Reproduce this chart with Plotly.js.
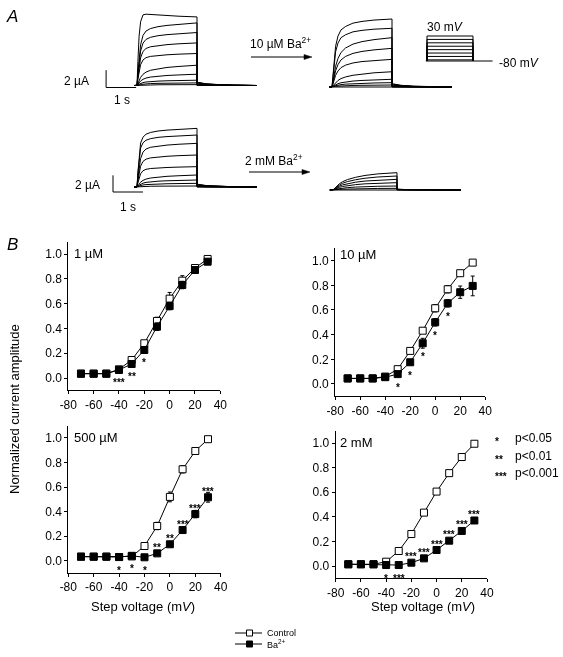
<!DOCTYPE html>
<html><head><meta charset="utf-8">
<script src="https://cdn.plot.ly/plotly-3.0.1.min.js"></script>
<style>
html,body{margin:0;padding:0;background:#fff}
#chart{width:563px;height:657px}
#chart svg{will-change:transform}
#chart svg text{-webkit-font-smoothing:antialiased}
</style>
</head><body><div id="chart"></div>
<script>
// ================= DATA =================
// ---- Panel B: normalized current vs step voltage ----
const voltages = [-70,-60,-50,-40,-30,-20,-10,0,10,20,30];
const tickV = [-80,-60,-40,-20,0,20,40];
const tickVText = ['-80','-60','-40','-20','0','20','40'];
const tickY = [0,0.2,0.4,0.6,0.8,1.0];
const tickYText = ['0.0','0.2','0.4','0.6','0.8','1.0'];

const ctrl_1uM    = [0.035,0.035,0.035,0.07,0.145,0.28,0.46,0.64,0.785,0.887,0.96];
const ba_1uM      = [0.035,0.035,0.035,0.065,0.113,0.226,0.414,0.58,0.75,0.871,0.938];
const ctrlErr_1uM = [0,0,0,0.01,0.01,0.02,0.03,0.05,0.04,0.02,0.02];
const baErr_1uM   = [0,0,0,0.01,0.01,0.02,0.03,0.03,0.03,0.02,0.02];
const stars_1uM   = ['','','','***','**','*','','','','',''];

const ctrl_10uM    = [0.045,0.045,0.045,0.06,0.12,0.268,0.432,0.614,0.768,0.898,0.984];
const ba_10uM      = [0.045,0.045,0.045,0.055,0.08,0.176,0.33,0.5,0.654,0.744,0.795];
const ctrlErr_10uM = [0,0,0,0.01,0.01,0.02,0.02,0.03,0.03,0.02,0.01];
const baErr_10uM   = [0,0,0,0.01,0.01,0.02,0.04,0.03,0.03,0.05,0.08];
const stars_10uM   = ['','','','','*','*','*','*','*','',''];

const ctrl_500uM    = [0.033,0.033,0.033,0.03,0.035,0.12,0.283,0.52,0.745,0.894,0.99];
const ba_500uM      = [0.033,0.033,0.033,0.03,0.04,0.028,0.06,0.134,0.25,0.38,0.517];
const ctrlErr_500uM = [0,0,0,0,0.01,0.01,0.03,0.04,0.03,0.01,0.01];
const baErr_500uM   = [0,0,0,0,0.01,0.01,0.01,0.02,0.02,0.03,0.04];
const stars_500uM   = ['','','','*','*','*','**','**','***','***','***'];

const ctrl_2mM    = [0.014,0.014,0.014,0.035,0.122,0.26,0.434,0.605,0.755,0.886,0.994];
const ba_2mM      = [0.014,0.014,0.014,0.008,0.008,0.027,0.062,0.13,0.206,0.285,0.37];
const ctrlErr_2mM = [0,0,0,0,0,0.01,0.01,0.01,0.01,0.01,0.01];
const baErr_2mM   = [0,0,0,0,0,0,0,0.01,0.01,0.01,0.01];
const stars_2mM   = ['','','','*','***','***','***','***','***','***','***'];

// ---- Panel A: current traces (µA) ----
// normalized time course of activation (fraction of end-of-pulse amplitude)
const tPulse   = [0,0.03,0.07,0.12,0.2,0.3,0.45,0.7,1.0,1.4,2.0];
const ctrlFast = [0,0.35,0.72,0.93,1.03,1.04,1.035,1.03,1.02,1.01,1.0];
const ctrlQuick= [0,0.25,0.55,0.75,0.85,0.9,0.93,0.955,0.97,0.985,1.0];
const ctrlMid  = [0,0.2,0.45,0.65,0.8,0.87,0.91,0.94,0.96,0.98,1.0];
const ctrlSlow = [0,0.1,0.25,0.4,0.55,0.66,0.75,0.83,0.89,0.94,1.0];
const baFast   = [0,0.15,0.38,0.6,0.75,0.84,0.89,0.94,0.965,0.985,1.0];
const baMid    = [0,0.1,0.26,0.42,0.58,0.7,0.79,0.87,0.92,0.96,1.0];
const baSlow   = [0,0.07,0.17,0.29,0.43,0.55,0.66,0.77,0.85,0.93,1.0];
const ba2mShape= [0,0.05,0.13,0.23,0.36,0.48,0.6,0.73,0.84,0.93,1.0];
const tTail    = [0,0.05,0.3,0.7,1.2,2.0];
const tailFrac = [0.06,0.045,0.025,0.012,0.005,0];

// end-of-pulse amplitudes (µA)
const ampCtrlTop = [7.91,7.22,6.11,4.91,3.69,2.34,1.30,0.61,0.30,0.10];
const ampBa10uM  = [7.84,6.77,5.69,4.46,3.19,1.76,0.89,0.50,0.23,0.08];
const ampCtrlBot = [7.04,6.24,5.24,3.84,2.44,1.44,0.84,0.44,0.12];
const ampBa2mM   = [2.08,1.68,1.28,0.88,0.48,0.20,0.06];

// voltage protocol (mV)
const protoLevels = [30,15,0,-15,-30,-45,-60,-75];
const holdingV = -80;

// ================= LAYOUT HELPERS =================
const W = 563, H = 657;
const FONT = 'Liberation Sans, Arial, Helvetica, sans-serif';
const traces = [];
const layout = {
  width: W, height: H, autosize: false,
  margin: {l:0, r:0, t:0, b:0, pad:0},
  paper_bgcolor: '#fff', plot_bgcolor: 'rgba(0,0,0,0)',
  showlegend: false, font: {family: FONT, color: '#000', size: 12},
  annotations: [], shapes: []
};
function ann(text, px, py, opts) {
  layout.annotations.push(Object.assign({
    text: text, xref: 'paper', yref: 'paper', x: px / W, y: 1 - py / H,
    xanchor: 'center', yanchor: 'middle', showarrow: false,
    font: {family: FONT, size: 12, color: '#000'}
  }, opts || {}));
}

// ---- Panel B subplots ----
const panels = [
  {label:'1 µM',   ctrl:ctrl_1uM,   ba:ba_1uM,   ce:ctrlErr_1uM,   be:baErr_1uM,   st:stars_1uM,   belowMax:40,  x0:68.3,  x1:220.3, yb:390.4, yt:241.6, lx:72,  ly:253},
  {label:'10 µM',  ctrl:ctrl_10uM,  ba:ba_10uM,  ce:ctrlErr_10uM,  be:baErr_10uM,  st:stars_10uM,  belowMax:40,  x0:335.2, x1:485.2, yb:396.3, yt:248.3, lx:338, ly:255},
  {label:'500 µM', ctrl:ctrl_500uM, ba:ba_500uM, ce:ctrlErr_500uM, be:baErr_500uM, st:stars_500uM, belowMax:-20, x0:68.3,  x1:220.7, yb:573.0, yt:425.7, lx:72,  ly:437},
  {label:'2 mM',   ctrl:ctrl_2mM,   ba:ba_2mM,   ce:ctrlErr_2mM,   be:baErr_2mM,   st:stars_2mM,   belowMax:-30, x0:335.7, x1:487.0, yb:578.3, yt:430.7, lx:338, ly:442}
];
panels.forEach((p, i) => {
  const n = i + 1, xa = 'x' + n, ya = 'y' + n;
  layout['xaxis' + n] = {
    domain: [p.x0 / W, p.x1 / W], anchor: ya, range: [-80, 40],
    tickvals: tickV, ticktext: tickVText, ticks: 'outside', ticklen: 3, tickwidth: 1, tickcolor: '#000',
    showline: true, linecolor: '#000', linewidth: 1, showgrid: false, zeroline: false,
    tickfont: {family: FONT, size: 12, color: '#000'}, fixedrange: true
  };
  layout['yaxis' + n] = {
    domain: [1 - p.yb / H, 1 - p.yt / H], anchor: xa, range: [-0.1, 1.1],
    tickvals: tickY, ticktext: tickYText, ticks: 'outside', ticklen: 3, tickwidth: 1, tickcolor: '#000',
    showline: true, linecolor: '#000', linewidth: 1, showgrid: false, zeroline: false,
    tickfont: {family: FONT, size: 12, color: '#000'}, fixedrange: true
  };
  traces.push({
    x: voltages, y: p.ctrl, xaxis: xa, yaxis: ya, type: 'scatter', mode: 'lines+markers',
    line: {color: '#000', width: 1},
    marker: {symbol: 'square', size: 7, color: '#fff', line: {color: '#000', width: 1}},
    error_y: {type: 'data', array: p.ce, visible: true, color: '#000', thickness: 1, width: 2},
    hoverinfo: 'skip'
  });
  traces.push({
    x: voltages, y: p.ba, xaxis: xa, yaxis: ya, type: 'scatter', mode: 'lines+markers',
    line: {color: '#000', width: 1},
    marker: {symbol: 'square', size: 7, color: '#000', line: {color: '#000', width: 1}},
    error_y: {type: 'data', array: p.be, visible: true, color: '#000', thickness: 1, width: 2},
    hoverinfo: 'skip'
  });
  voltages.forEach((v, k) => {
    if (!p.st[k]) return;
    const below = v <= p.belowMax;
    layout.annotations.push({
      text: '<b>' + p.st[k] + '</b>', x: v, y: p.ba[k], xref: xa, yref: ya, showarrow: false,
      xanchor: 'center', yanchor: 'middle', yshift: below ? -13 : 6,
      font: {family: FONT, size: 10, color: '#000'}
    });
  });
  ann(p.label, p.lx, p.ly, {xanchor: 'left', font: {family: FONT, size: 13, color: '#000'}});
});

// axis titles (panel B)
ann('Normalized current amplitude', 14, 409, {textangle: -90, font: {family: FONT, size: 13, color: '#000'}});
ann('Step voltage (m<i>V</i>)', 143, 606, {font: {family: FONT, size: 13, color: '#000'}});
ann('Step voltage (m<i>V</i>)', 423, 606, {font: {family: FONT, size: 13, color: '#000'}});

// significance key
ann('<b>*</b>', 493, 441, {xanchor: 'left', font: {family: FONT, size: 10, color: '#000'}});
ann('p<0.05', 513, 438, {xanchor: 'left', font: {family: FONT, size: 12, color: '#000'}});
ann('<b>**</b>', 493, 459, {xanchor: 'left', font: {family: FONT, size: 10, color: '#000'}});
ann('p<0.01', 513, 456, {xanchor: 'left', font: {family: FONT, size: 12, color: '#000'}});
ann('<b>***</b>', 493, 476, {xanchor: 'left', font: {family: FONT, size: 10, color: '#000'}});
ann('p<0.001', 513, 473, {xanchor: 'left', font: {family: FONT, size: 12, color: '#000'}});

// bottom legend (drawn glyphs)
function legendRow(py, filled, label) {
  layout.shapes.push({type: 'line', xref: 'paper', yref: 'paper', x0: 235 / W, x1: 262 / W, y0: 1 - py / H, y1: 1 - py / H, line: {color: '#000', width: 1}});
  layout.shapes.push({type: 'rect', xref: 'paper', yref: 'paper', x0: 246.5 / W, x1: 252.5 / W, y0: 1 - (py + 3) / H, y1: 1 - (py - 3) / H, line: {color: '#000', width: 1}, fillcolor: filled ? '#000' : '#fff'});
  ann(label, 265, py, {xanchor: 'left', font: {family: FONT, size: 9, color: '#000'}});
}
legendRow(633, false, 'Control');
legendRow(644, true, 'Ba<sup>2+</sup>');

// ---- Panel A trace families ----
let axN = panels.length;
function addFamily(cfg) {
  axN += 1;
  const xa = 'x' + axN, ya = 'y' + axN;
  layout['xaxis' + axN] = {visible: false, fixedrange: true, anchor: ya,
    domain: [(cfg.onset + cfg.tMin * cfg.pxps) / W, (cfg.onset + cfg.tMax * cfg.pxps) / W], range: [cfg.tMin, cfg.tMax]};
  layout['yaxis' + axN] = {visible: false, fixedrange: true, anchor: xa,
    domain: [1 - (cfg.base - cfg.iMin * cfg.pxpu) / H, 1 - (cfg.base - cfg.iMax * cfg.pxpu) / H], range: [cfg.iMin, cfg.iMax]};
  return {xa, ya};
}
function addCurrents(ax, amps, shapes, pulseEnd) {
  amps.forEach((a, i) => {
    const sh = shapes[i];
    const xs = [-0.1].concat(tPulse.map(t => t * pulseEnd / 2.0), tTail.map(t => pulseEnd + t));
    const ys = [0].concat(sh.map(f => f * a), tailFrac.map(f => f * a));
    traces.push({x: xs, y: ys, xaxis: ax.xa, yaxis: ax.ya, type: 'scatter', mode: 'lines',
      line: {color: '#000', width: 1}, hoverinfo: 'skip'});
  });
}
function addScaleBar(ax, t0, i0) {
  traces.push({x: [t0, t0, null, t0, t0 + 1], y: [i0, i0 + 2, null, i0, i0], xaxis: ax.xa, yaxis: ax.ya,
    type: 'scatter', mode: 'lines', line: {color: '#000', width: 1}, hoverinfo: 'skip'});
}

// row 1: control
const axC1 = addFamily({onset: 137, pxps: 30, base: 85.5, pxpu: 8.67, tMin: -1.3, tMax: 4.3, iMin: -1, iMax: 9});
addCurrents(axC1, ampCtrlTop, [ctrlFast, ctrlMid, ctrlMid, ctrlMid, ctrlMid, ctrlSlow, ctrlSlow, ctrlSlow, ctrlSlow, ctrlSlow], 2.0);
addScaleBar(axC1, -1.03, -0.23);
// row 1: 10 µM Ba
const axB1 = addFamily({onset: 332, pxps: 30, base: 87, pxpu: 8.67, tMin: -0.5, tMax: 4.3, iMin: -1, iMax: 9});
addCurrents(axB1, ampBa10uM, [baFast, baFast, baMid, baMid, baMid, baSlow, baSlow, baSlow, baSlow, baSlow], 2.0);
// row 2: control
const axC2 = addFamily({onset: 137, pxps: 30, base: 187, pxpu: 8.33, tMin: -1.3, tMax: 4.3, iMin: -1, iMax: 9});
addCurrents(axC2, ampCtrlBot, [ctrlQuick, ctrlQuick, ctrlMid, ctrlMid, ctrlMid, ctrlSlow, ctrlSlow, ctrlSlow, ctrlSlow], 2.0);
addScaleBar(axC2, -0.8, -0.6);
// row 2: 2 mM Ba
const axB2 = addFamily({onset: 333, pxps: 32, base: 190, pxpu: 8.33, tMin: -0.5, tMax: 4.3, iMin: -1, iMax: 9});
addCurrents(axB2, ampBa2mM, ampBa2mM.map(() => ba2mShape), 2.0);

// voltage protocol
const axP = addFamily({onset: 427, pxps: 23, base: 61, pxpu: 25 / 110, tMin: -0.4, tMax: 3.0, iMin: -10, iMax: 125});
(function () {
  const px = [], py = [];
  protoLevels.forEach(v => { px.push(0, 0, 2, 2, null); py.push(holdingV, v, v, holdingV, null); });
  px.push(-0.05, 2.85); py.push(holdingV, holdingV);
  traces.push({x: px, y: py.map(v => v === null ? null : v - holdingV), xaxis: axP.xa, yaxis: axP.ya,
    type: 'scatter', mode: 'lines', line: {color: '#000', width: 1}, hoverinfo: 'skip', connectgaps: false});
})();

// panel A text
ann('<i>A</i>', 12, 16, {font: {family: FONT, size: 17, color: '#000'}});
ann('<i>B</i>', 12, 244, {font: {family: FONT, size: 17, color: '#000'}});
ann('2 µA', 77, 81);
ann('1 s', 122, 100);
ann('2 µA', 87, 185);
ann('1 s', 128, 207);
ann('10 µM Ba<sup>2+</sup>', 280, 43);
ann('2 mM Ba<sup>2+</sup>', 274, 160);
ann('30 m<i>V</i>', 445, 27);
ann('-80 m<i>V</i>', 519, 63);
// arrows (shaft + head drawn as shapes)
[[251, 312, 57], [249, 310, 172]].forEach(a => {
  const [x0, x1, y] = a;
  layout.shapes.push({type: 'line', xref: 'paper', yref: 'paper', x0: x0 / W, x1: (x1 - 4) / W, y0: 1 - y / H, y1: 1 - y / H, line: {color: '#000', width: 1.2}});
  const p = (px, py) => (px / W).toFixed(5) + ',' + (1 - py / H).toFixed(5);
  layout.shapes.push({type: 'path', xref: 'paper', yref: 'paper',
    path: 'M' + p(x1, y) + ' L' + p(x1 - 8, y - 2.5) + ' L' + p(x1 - 8, y + 2.5) + ' Z',
    fillcolor: '#000', line: {color: '#000', width: 0.5}});
});

Plotly.newPlot('chart', traces, layout, {displayModeBar: false, staticPlot: true});
</script></body></html>
